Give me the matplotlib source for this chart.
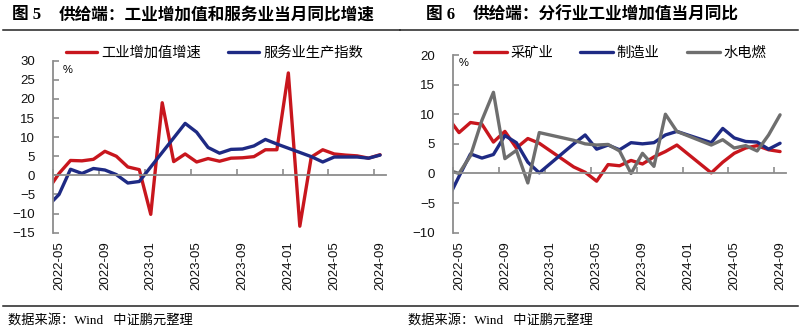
import matplotlib
matplotlib.use("Agg")
import matplotlib.pyplot as plt
from matplotlib.lines import Line2D
import numpy as np
import pandas as pd

# Fonts: Latin from Liberation Sans, Chinese falls back to Noto Sans CJK
plt.rcParams['font.family'] = ['Liberation Sans', 'Noto Sans CJK SC']

# ---- data (monthly, 2022-04 .. 2024-09; Jan/Feb missing where nan) ----
months = list(pd.period_range('2022-04', '2024-09', freq='M').strftime('%Y-%m'))
tick_labels = months[1::4]          # 2022-05, 2022-09, ... 2024-09

nan = np.nan
# Fig 5
industry = [-3.9, 0.5, 3.9, 3.8, 4.2, 6.3, 5.0, 2.2, 1.5,
            -10.2, 19.0, 3.6, 5.6, 3.5, 4.4, 3.7, 4.5, 4.6, 4.9, 6.7, 6.7,
            26.8, -13.3, 4.8, 6.7, 5.6, 5.3, 5.1, 4.5, 5.4]
services = [-8.1, -5.0, 1.6, 0.5, 1.8, 1.4, 0.2, -2.0, -1.6,
            nan, nan, 9.8, 13.6, 11.3, 7.3, 5.8, 6.8, 6.9, 7.7, 9.4, 8.2,
            nan, nan, 4.9, 3.5, 4.8, 4.8, 4.8, 4.5, 5.3]
# Fig 6
mining = [9.5, 6.9, 8.6, 8.3, 5.3, 7.1, 4.3, 5.9, 5.1,
          nan, nan, 1.1, 0.2, -1.3, 1.5, 1.3, 2.2, 1.6, 2.8, 3.7, 4.8,
          nan, nan, 0.1, 1.9, 3.4, 4.3, 4.7, 4.0, 3.7]
manufacturing = [-4.4, -0.5, 3.3, 2.6, 3.2, 6.4, 5.2, 1.9, 0.1,
                 nan, nan, 5.0, 6.5, 4.1, 4.8, 4.0, 5.2, 5.0, 5.2, 6.5, 7.1,
                 nan, nan, 5.2, 7.6, 6.0, 5.4, 5.3, 4.1, 5.1]
utilities = [0.6, 0.0, 3.0, 9.0, 13.7, 2.5, 3.9, -1.6, 6.9,
             nan, nan, 5.6, 5.0, 4.8, 4.9, 3.8, 0.0, 3.4, 1.2, 10.0, 7.1,
             nan, nan, 4.8, 5.7, 4.3, 4.7, 3.8, 6.5, 9.9]

# category centres: 2022-05 sits at 0.5, first (2022-04) point is clipped
x = np.arange(len(months)) - 0.5
label_pos = x[1::4]

RED = '#C8161D'
BLUE = '#1E2A84'
GRAY = '#6E6E6E'
AXC = '#8C8C8C'

W, H = 802, 333
fig = plt.figure(figsize=(W / 100, H / 100), dpi=100)


def px_axes(left, top, right, bottom):
    return fig.add_axes([left / W, 1 - bottom / H, (right - left) / W, (bottom - top) / H])


def style(ax, ylim, yticks):
    ax.set_xlim(0, 29)
    ax.set_ylim(*ylim)
    ax.set_yticks(yticks)
    for s in ['top', 'right']:
        ax.spines[s].set_visible(False)
    ax.spines['left'].set_color(AXC)
    ax.spines['left'].set_linewidth(1.3)
    ax.spines['bottom'].set_position(('data', 0))
    ax.spines['bottom'].set_color(AXC)
    ax.spines['bottom'].set_linewidth(1.3)
    ax.set_xticks(np.arange(0, 29, 4))
    ax.tick_params(axis='x', direction='in', length=4, width=1.2, color=AXC, labelbottom=False)
    ax.tick_params(axis='y', direction='in', length=4, width=1.2, color=AXC,
                   labelsize=9.5, pad=13, labelcolor='#111111')
    # category labels at the bottom of the plot area
    sec = ax.secondary_xaxis('bottom')
    sec.set_xticks(label_pos, tick_labels, rotation=90)
    sec.tick_params(length=0, pad=6, labelsize=9.5, labelcolor='#111111')
    sec.spines['bottom'].set_visible(False)
    ax.patch.set_visible(False)


def draw(ax, vals, color, label):
    v = np.array(vals)
    m = ~np.isnan(v)
    return ax.plot(x[m], v[m], color=color, lw=2.4, label=label,
                   solid_joinstyle='round', solid_capstyle='round')[0]


leg_font = {'family': 'Noto Sans CJK SC', 'size': 10.3}

# ---- Figure 5 ----
ax1 = px_axes(53.3, 60.7, 385.8, 232.7)
style(ax1, (-15, 30), np.arange(-15, 31, 5))
h1 = draw(ax1, industry, RED, '工业增加值增速')
h2 = draw(ax1, services, BLUE, '服务业生产指数')
ax1.legend(handles=[h1, h2], loc='center left', bbox_to_anchor=(66 / W, 1 - 52.7 / H),
           bbox_transform=fig.transFigure, ncol=2, frameon=False, prop=leg_font,
           handlelength=2.2, handletextpad=0.25, columnspacing=1.9,
           borderpad=0, borderaxespad=0)
fig.text(67.7 / W, 1 - 70 / H, '%', fontsize=8, ha='center', va='center')

# ---- Figure 6 ----
ax2 = px_axes(453.3, 55, 785.8, 232.7)
style(ax2, (-10, 20), np.arange(-10, 21, 5))
g1 = draw(ax2, mining, RED, '采矿业')
g2 = draw(ax2, manufacturing, BLUE, '制造业')
g3 = draw(ax2, utilities, GRAY, '水电燃')
ax2.legend(handles=[g1, g2, g3], loc='center left', bbox_to_anchor=(474 / W, 1 - 52.7 / H),
           bbox_transform=fig.transFigure, ncol=3, frameon=False, prop=leg_font,
           handlelength=2.3, handletextpad=0.25, columnspacing=1.9,
           borderpad=0, borderaxespad=0)
fig.text(464 / W, 1 - 62.7 / H, '%', fontsize=8, ha='center', va='center')

# ---- titles, rules, sources ----
title_serif = ['Liberation Serif', 'Noto Sans CJK SC']
fig.text(12 / W, 1 - 15 / H, '图 5', fontsize=12, fontweight='bold', family=title_serif, va='center')
fig.text(59 / W, 1 - 15 / H, '供给端：工业增加值和服务业当月同比增速', fontsize=12,
         fontweight='bold', family='Noto Sans CJK SC', va='center')
fig.text(426 / W, 1 - 15 / H, '图 6', fontsize=12, fontweight='bold', family=title_serif, va='center')
fig.text(473 / W, 1 - 15 / H, '供给端：分行业工业增加值当月同比', fontsize=12,
         fontweight='bold', family='Noto Sans CJK SC', va='center')

for x0, x1 in [(3, 400), (400, 798)]:
    fig.add_artist(Line2D([x0 / W, x1 / W], [1 - 29.5 / H] * 2, transform=fig.transFigure,
                          color='#222222', lw=1.1))
fig.add_artist(Line2D([3 / W, 798 / W], [1 - 306 / H] * 2, transform=fig.transFigure,
                      color='#222222', lw=1.1))

src = '数据来源：Wind   中证鹏元整理'
fig.text(8 / W, 1 - 320 / H, src, fontsize=9.5, family=title_serif, va='center')
fig.text(408 / W, 1 - 320 / H, src, fontsize=9.5, family=title_serif, va='center')

fig.savefig('out.png', dpi=100)
